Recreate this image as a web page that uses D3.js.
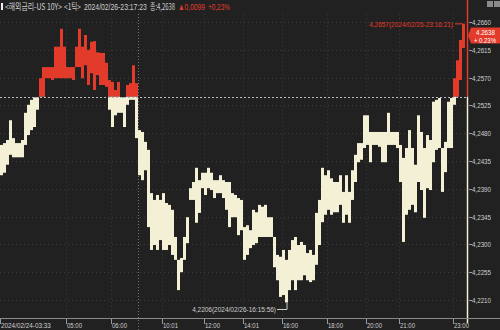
<!DOCTYPE html>
<html>
<head>
<meta charset="utf-8">
<script src="https://cdn.jsdelivr.net/npm/d3@7"></script>
<style>
  html, body { margin: 0; padding: 0; background: #212121; }
  svg { display: block; }
  text { font-family: "Liberation Sans", "DejaVu Sans", sans-serif; }
  text.kr { font-family: "Noto Sans CJK KR", "DejaVu Sans", sans-serif; }
</style>
</head>
<body>
<div id="chart"></div>
<script>
// 미국채 10년 금리 틱차트

// 각 구간의 고가 / 저가
const highs = [
  4.2461, 4.2464, 4.2469, 4.2501, 4.2472, 4.2464, 4.2464, 4.2469, 4.2513, 4.2526,
  4.2534, 4.2538, 4.2538, 4.2569, 4.2587, 4.2587, 4.2587, 4.2587, 4.2620, 4.2620,
  4.2649, 4.2620, 4.2587, 4.2587, 4.2587, 4.2620, 4.2649, 4.2620, 4.2639, 4.2615,
  4.2628, 4.2629, 4.2611, 4.2610, 4.2610, 4.2594, 4.2566, 4.2563, 4.2550, 4.2563,
  4.2538, 4.2538, 4.2558, 4.2561, 4.2590, 4.2561, 4.2485, 4.2482, 4.2466, 4.2453,
  4.2383, 4.2372, 4.2380, 4.2372, 4.2383, 4.2367, 4.2364, 4.2356, 4.2312, 4.2275,
  4.2278, 4.2312, 4.2344, 4.2391, 4.2401, 4.2424, 4.2404, 4.2416, 4.2416, 4.2424,
  4.2416, 4.2404, 4.2404, 4.2412, 4.2404, 4.2401, 4.2401, 4.2383, 4.2380, 4.2375,
  4.2372, 4.2328, 4.2331, 4.2323, 4.2356, 4.2352, 4.2364, 4.2361, 4.2364, 4.2344,
  4.2344, 4.2312, 4.2283, 4.2280, 4.2291, 4.2275, 4.2291, 4.2307, 4.2312, 4.2299,
  4.2304, 4.2299, 4.2286, 4.2291, 4.2283, 4.2351, 4.2372, 4.2424, 4.2412, 4.2420,
  4.2407, 4.2401, 4.2401, 4.2412, 4.2385, 4.2412, 4.2385, 4.2420, 4.2445, 4.2464,
  4.2464, 4.2509, 4.2509, 4.2482, 4.2482, 4.2482, 4.2482, 4.2482, 4.2482, 4.2513,
  4.2482, 4.2482, 4.2482, 4.2461, 4.2440, 4.2456, 4.2485, 4.2456, 4.2429, 4.2509,
  4.2482, 4.2456, 4.2477, 4.2469, 4.2531, 4.2534, 4.2537, 4.2456, 4.2466, 4.2531,
  4.2537, 4.2569, 4.2598, 4.2631, 4.2657
];
const lows = [
  4.2412, 4.2416, 4.2429, 4.2445, 4.2441, 4.2441, 4.2441, 4.2441, 4.2461, 4.2477,
  4.2485, 4.2490, 4.2518, 4.2539, 4.2539, 4.2569, 4.2569, 4.2566, 4.2569, 4.2569,
  4.2569, 4.2569, 4.2569, 4.2569, 4.2566, 4.2587, 4.2587, 4.2569, 4.2590, 4.2558,
  4.2577, 4.2550, 4.2574, 4.2558, 4.2558, 4.2555, 4.2518, 4.2490, 4.2509, 4.2513,
  4.2513, 4.2490, 4.2526, 4.2534, 4.2534, 4.2472, 4.2412, 4.2404, 4.2420, 4.2328,
  4.2291, 4.2299, 4.2291, 4.2307, 4.2291, 4.2291, 4.2299, 4.2283, 4.2275, 4.2226,
  4.2255, 4.2275, 4.2302, 4.2372, 4.2372, 4.2335, 4.2351, 4.2391, 4.2380, 4.2391,
  4.2388, 4.2375, 4.2383, 4.2383, 4.2375, 4.2356, 4.2328, 4.2344, 4.2344, 4.2315,
  4.2323, 4.2275, 4.2283, 4.2294, 4.2299, 4.2302, 4.2312, 4.2312, 4.2312, 4.2312,
  4.2312, 4.2263, 4.2242, 4.2215, 4.2218, 4.2206, 4.2226, 4.2242, 4.2226, 4.2242,
  4.2242, 4.2250, 4.2242, 4.2239, 4.2242, 4.2267, 4.2299, 4.2336, 4.2348, 4.2356,
  4.2348, 4.2352, 4.2352, 4.2364, 4.2335, 4.2348, 4.2335, 4.2372, 4.2401, 4.2433,
  4.2437, 4.2456, 4.2461, 4.2433, 4.2461, 4.2461, 4.2458, 4.2433, 4.2433, 4.2461,
  4.2461, 4.2461, 4.2456, 4.2401, 4.2304, 4.2348, 4.2356, 4.2364, 4.2352, 4.2401,
  4.2388, 4.2343, 4.2391, 4.2388, 4.2433, 4.2453, 4.2456, 4.2385, 4.2417, 4.2456,
  4.2456, 4.2526, 4.2539, 4.2566, 4.2618
];

const prevClose = 4.2539;
const lastPrice = 4.2638;
const lastChange = 0.0099;
const lastPct = 0.23;
const highPoint = { value: 4.2657, index: 154, label: '4,2657(2024/02/26-23:16:21)' };
const lowPoint = { value: 4.2206, index: 95, label: '4,2206(2024/02/26-16:15:56)' };

const yTicks = [4.2210, 4.2255, 4.2300, 4.2345, 4.2390, 4.2435, 4.2480, 4.2525, 4.2570, 4.2615, 4.2660];
const xTickIndex = [0, 22, 37, 54, 68, 81, 94, 109, 122, 133, 151];
const xTickLabels = ['2024/02/24-03:33', '05:00', '06:00', '10:01', '12:00', '14:01', '16:00', '18:00', '20:00', '21:00', '23:00'];
const dayBreakIndex = 46;

const width = 500, height = 330;
const plotRight = 465, cursorX = 467, axisY = 318;
const RED = '#e23b2c', CREAM = '#f3f0d6', GRID = '#3b3b3b', TEXT = '#cfcfcf';
const FONT = '9px';

const svg = d3.select('#chart').append('svg')
    .attr('width', width)
    .attr('height', height);

svg.append('rect').attr('width', width).attr('height', height).attr('fill', '#212121');

const x = d3.scaleLinear().domain([0, highs.length]).range([0, plotRight]);
const y = d3.scaleLinear().domain([4.2210, 4.2660]).range([300, 22]);
const yBase = y(prevClose);
const fmt = v => d3.format('.4f')(v).replace('.', ',');

// 좁은 글꼴 흉내: 실제 폭을 재서 가로로만 줄인다
function narrowText(parent, str, px, py, w, opts = {}) {
    const t = parent.append('text')
        .attr('class', opts.kr ? 'kr' : null)
        .attr('x', 0).attr('y', 0)
        .attr('text-anchor', opts.anchor || 'start')
        .style('font-size', opts.size || FONT)
        .attr('fill', opts.color || TEXT)
        .text(str);
    const natural = t.node().getComputedTextLength();
    const sx = natural > 0 ? w / natural : 1;
    t.attr('transform', `translate(${px},${py}) scale(${sx},1)`);
    return t;
}

// 격자
svg.append('g').selectAll('line')
    .data(yTicks)
    .enter().append('line')
    .attr('x1', 0).attr('x2', cursorX)
    .attr('y1', d => Math.round(y(d)) + 0.5).attr('y2', d => Math.round(y(d)) + 0.5)
    .attr('stroke', GRID).attr('stroke-dasharray', '1,3');

svg.append('g').selectAll('line')
    .data(xTickIndex.slice(1))
    .enter().append('line')
    .attr('x1', d => Math.round(x(d)) + 0.5).attr('x2', d => Math.round(x(d)) + 0.5)
    .attr('y1', 14).attr('y2', axisY)
    .attr('stroke', GRID).attr('stroke-dasharray', '1,3');

svg.append('line')
    .attr('x1', Math.round(x(dayBreakIndex)) + 0.5).attr('x2', Math.round(x(dayBreakIndex)) + 0.5)
    .attr('y1', 14).attr('y2', height)
    .attr('stroke', '#777').attr('stroke-dasharray', '1,2');

// 기준선 클립
const defs = svg.append('defs');
defs.append('clipPath').attr('id', 'above')
    .append('rect').attr('x', 0).attr('y', 0).attr('width', width).attr('height', yBase);
defs.append('clipPath').attr('id', 'below')
    .append('rect').attr('x', 0).attr('y', yBase).attr('width', width).attr('height', height - yBase);

const bars = highs.map((h, i) => ({ i, high: h, low: lows[i] }));

[['above', RED], ['below', CREAM]].forEach(([clip, color]) => {
    svg.append('g')
        .attr('clip-path', `url(#${clip})`)
        .selectAll('rect')
        .data(bars)
        .enter().append('rect')
        .attr('x', d => x(d.i))
        .attr('width', x(1) - x(0))
        .attr('y', d => y(d.high))
        .attr('height', d => Math.max(1, y(d.low) - y(d.high)))
        .attr('fill', color);
});

// 전일 종가 기준선
svg.append('line')
    .attr('x1', 0).attr('x2', cursorX)
    .attr('y1', Math.round(yBase) + 0.5).attr('y2', Math.round(yBase) + 0.5)
    .attr('stroke', '#bdbdbd').attr('stroke-dasharray', '2,2');

// 현재 위치 세로선
svg.append('line')
    .attr('x1', cursorX + 0.5).attr('x2', cursorX + 0.5)
    .attr('y1', 0).attr('y2', yBase)
    .attr('stroke', RED).attr('stroke-width', 1.5);
svg.append('line')
    .attr('x1', cursorX + 0.5).attr('x2', cursorX + 0.5)
    .attr('y1', yBase).attr('y2', axisY + 5)
    .attr('stroke', CREAM).attr('stroke-width', 1.5);

// Y축
const yAxis = svg.append('g');
yAxis.selectAll('line')
    .data(yTicks)
    .enter().append('line')
    .attr('x1', 469).attr('x2', 472)
    .attr('y1', d => Math.round(y(d)) + 0.5).attr('y2', d => Math.round(y(d)) + 0.5)
    .attr('stroke', '#999');
yTicks.forEach(d => narrowText(yAxis, fmt(d), 472, y(d) + 3, 19, { size: '8px' }));

// X축
svg.append('line')
    .attr('x1', 0).attr('x2', width)
    .attr('y1', axisY + 0.5).attr('y2', axisY + 0.5)
    .attr('stroke', '#8a8a8a');
const xAxis = svg.append('g');
xAxis.selectAll('line')
    .data(xTickIndex)
    .enter().append('line')
    .attr('x1', d => Math.round(x(d)) + 0.5).attr('x2', d => Math.round(x(d)) + 0.5)
    .attr('y1', axisY + 1).attr('y2', axisY + 6)
    .attr('stroke', '#999');
xTickIndex.forEach((d, i) => narrowText(xAxis, xTickLabels[i], x(d) + 1, 327.5, i === 0 ? 50 : 15, { size: '8px' }));

// 현재가 태그
const tagY = y(lastPrice);
svg.append('path')
    .attr('d', `M${cursorX + 1},${tagY} L${cursorX + 4},${tagY - 8} L500,${tagY - 8} L500,${tagY + 8} L${cursorX + 4},${tagY + 8} Z`)
    .attr('fill', RED);
narrowText(svg, d3.format('.4f')(lastPrice), 476, tagY - 1, 19, { color: '#fff', size: '7.5px' });
narrowText(svg, `+ ${lastPct.toFixed(2)}%`, 474, tagY + 7.5, 22, { color: '#fff', size: '7.5px' });

// 고가 / 저가 표시
const hx = x(highPoint.index) + 1, hy = y(highPoint.value);
svg.append('path')
    .attr('d', `M${hx - 8},${hy} L${hx},${hy} L${hx},${hy + 5}`)
    .attr('fill', 'none').attr('stroke', RED);
narrowText(svg, highPoint.label, hx - 10, hy + 3, 84, { anchor: 'end', color: RED, size: '8px' });

const lx = x(lowPoint.index) + 2, ly = y(lowPoint.value);
svg.append('path')
    .attr('d', `M${lx - 10},${ly + 7} L${lx},${ly + 7} L${lx},${ly}`)
    .attr('fill', 'none').attr('stroke', TEXT);
narrowText(svg, lowPoint.label, lx - 11, ly + 10, 84, { anchor: 'end', size: '8px' });

// 상단 제목
svg.append('rect').attr('x', 1).attr('y', 3).attr('width', 2).attr('height', 7).attr('fill', '#eee');
const header = [
    { text: '<해외금리-US 10Y>', x: 5, w: 57, color: TEXT, kr: true },
    { text: '<1틱>', x: 64, w: 17, color: TEXT, kr: true },
    { text: '2024/02/26-23:17:23', x: 84, w: 63, color: TEXT },
    { text: '종:' + fmt(lastPrice), x: 150, w: 25, color: TEXT, kr: true },
    { text: '▲' + fmt(lastChange), x: 178, w: 27, color: RED },
    { text: '+' + lastPct.toFixed(2).replace('.', ',') + '%', x: 208, w: 22, color: RED }
];
const headG = svg.append('g');
header.forEach(h => narrowText(headG, h.text, h.x, 10, h.w, { color: h.color, kr: h.kr }));

// 우측 상단 아이콘
svg.append('rect').attr('x', 487).attr('y', 1).attr('width', 6).attr('height', 6).attr('fill', '#8a8a8a');
svg.append('rect').attr('x', 494).attr('y', 1).attr('width', 6).attr('height', 6).attr('fill', '#8a8a8a');
</script>
</body>
</html>
